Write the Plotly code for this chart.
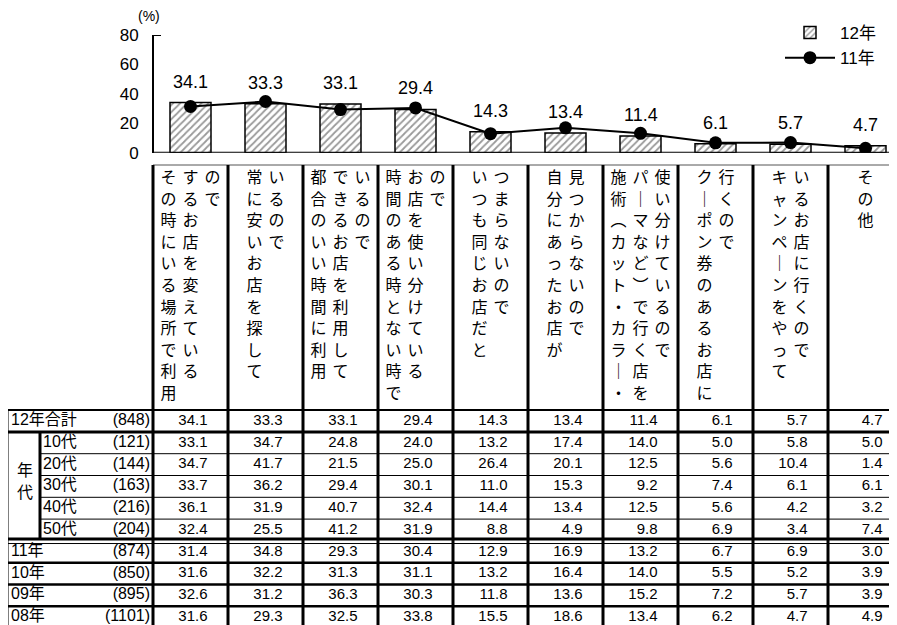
import plotly.graph_objects as go

# ---- data ---------------------------------------------------------------
# header text of each answer, one string per vertical line (read left to right)
headers = [
    ["その時にいる場所で利用", "するお店を変えている", "ので"],
    ["常に安いお店を探して", "いるので"],
    ["都合のいい時間に利用", "できるお店を利用して", "いるので"],
    ["時間のある時とない時で", "お店を使い分けている", "ので"],
    ["いつも同じお店だと", "つまらないので"],
    ["自分にあったお店が", "見つからないので"],
    ["施術︵カット・カラ｜・", "パ｜マなど︶で行く店を", "使い分けているので"],
    ["ク｜ポン券のあるお店に", "行くので"],
    ["キャンペ｜ンをやって", "いるお店に行くので"],
    ["その他"],
]

row_labels = ["12年合計", "10代", "20代", "30代", "40代", "50代", "11年", "10年", "09年", "08年"]
row_n = ["(848)", "(121)", "(144)", "(163)", "(216)", "(204)", "(874)", "(850)", "(895)", "(1101)"]

total_12 = [34.1, 33.3, 33.1, 29.4, 14.3, 13.4, 11.4, 6.1, 5.7, 4.7]
age_10 = [33.1, 34.7, 24.8, 24.0, 13.2, 17.4, 14.0, 5.0, 5.8, 5.0]
age_20 = [34.7, 41.7, 21.5, 25.0, 26.4, 20.1, 12.5, 5.6, 10.4, 1.4]
age_30 = [33.7, 36.2, 29.4, 30.1, 11.0, 15.3, 9.2, 7.4, 6.1, 6.1]
age_40 = [36.1, 31.9, 40.7, 32.4, 14.4, 13.4, 12.5, 5.6, 4.2, 3.2]
age_50 = [32.4, 25.5, 41.2, 31.9, 8.8, 4.9, 9.8, 6.9, 3.4, 7.4]
year_11 = [31.4, 34.8, 29.3, 30.4, 12.9, 16.9, 13.2, 6.7, 6.9, 3.0]
year_10 = [31.6, 32.2, 31.3, 31.1, 13.2, 16.4, 14.0, 5.5, 5.2, 3.9]
year_09 = [32.6, 31.2, 36.3, 30.3, 11.8, 13.6, 15.2, 7.2, 5.7, 3.9]
year_08 = [31.6, 29.3, 32.5, 33.8, 15.5, 18.6, 13.4, 6.2, 4.7, 4.9]

table_rows = [total_12, age_10, age_20, age_30, age_40, age_50,
              year_11, year_10, year_09, year_08]

y_ticks = [0, 20, 40, 60, 80]

# ---- layout helpers ----------------------------------------------------
# positions below are screen pixels; the page body adds an 8px offset
W, H = 897, 625
OFF = 8
COL0, COL_W = 153, 75          # left edge of first column, column width
ROW0, ROW_H = 421, 21.8        # centre of first table row, row height
AX_TOP, AX_BASE = 35, 152.7    # y pixel of 80 and of 0

FONT = "Liberation Sans, Noto Sans CJK JP, sans-serif"


def cx(px):
    return (px - COL0) / COL_W - 0.5


def ry(py):
    return (py - ROW0) / ROW_H


def paper_x(px):
    return (px - OFF) / W


def paper_y(py):
    return 1 - (py - OFF) / H


cols = list(range(len(total_12)))

fig = go.Figure()

fig.add_trace(go.Bar(
    x=cols, y=total_12, name="12年", width=41 / COL_W,
    marker=dict(color="white", line=dict(color="black", width=1.5),
                pattern=dict(shape="/", fgcolor="#333", bgcolor="white",
                             size=5, solidity=0.35)),
    hoverinfo="skip",
))
fig.add_trace(go.Scatter(
    x=cols, y=year_11, name="11年", mode="lines+markers",
    line=dict(color="black", width=2),
    marker=dict(color="black", size=13),
    hoverinfo="skip",
))

for i, v in zip(cols, total_12):
    fig.add_annotation(x=i, y=v, xref="x", yref="y", text=f"{v:.1f}",
                       yshift=21, showarrow=False,
                       font=dict(size=18, color="black", family=FONT))

# vertical header text, one point per character
hx, hy, ht = [], [], []
for i, lines in enumerate(headers):
    n = len(lines)
    for j, line in enumerate(lines):
        dx = (j - (n - 1) / 2) * 22
        for k, ch in enumerate(line):
            hx.append(i + dx / COL_W)
            hy.append(ry(179 + 21.6 * k))
            ht.append(ch)
fig.add_trace(go.Scatter(
    x=hx, y=hy, text=ht, mode="text", yaxis="y2", showlegend=False,
    textfont=dict(size=16, color="black", family=FONT), hoverinfo="skip",
))

# table values
tx, ty, tt = [], [], []
for r, vals in enumerate(table_rows):
    for i, v in enumerate(vals):
        tx.append(i + 17 / COL_W)
        ty.append(r)
        tt.append(f"{v:.1f}")
fig.add_trace(go.Scatter(
    x=tx, y=ty, text=tt, mode="text", textposition="middle left",
    yaxis="y2", showlegend=False,
    textfont=dict(size=15, color="black", family=FONT), hoverinfo="skip",
))

# row labels
lx = [cx(43) if 1 <= r <= 5 else cx(11) for r in range(len(row_labels))]
fig.add_trace(go.Scatter(
    x=lx, y=list(range(len(row_labels))), text=row_labels, mode="text",
    textposition="middle right", yaxis="y2", showlegend=False,
    textfont=dict(size=16, color="black", family=FONT), hoverinfo="skip",
))
fig.add_trace(go.Scatter(
    x=[cx(150)] * len(row_n), y=list(range(len(row_n))), text=row_n,
    mode="text", textposition="middle left", yaxis="y2", showlegend=False,
    textfont=dict(size=16, color="black", family=FONT), hoverinfo="skip",
))
fig.add_trace(go.Scatter(
    x=[cx(25), cx(25)], y=[2.35, 3.35], text=["年", "代"], mode="text",
    yaxis="y2", showlegend=False,
    textfont=dict(size=16, color="black", family=FONT), hoverinfo="skip",
))

# ---- grid lines of the table -----------------------------------------
X_END = cx(W + OFF) + 0.2
Y_END = ry(H + OFF) + 0.2


def seg(x0, y0, x1, y1, w, yref="y2", color="black"):
    fig.add_shape(type="line", x0=x0, y0=y0, x1=x1, y1=y1, xref="x",
                  yref=yref, line=dict(color=color, width=w))


seg(-0.5, ry(165), X_END, ry(165), 1, color="#555")
for i in range(len(cols) + 1):
    seg(i - 0.5, ry(165), i - 0.5, Y_END, 3)
seg(cx(7), -0.5, X_END, -0.5, 2)
seg(cx(7), 0.5, X_END, 0.5, 3)
for r in (1.5, 2.5, 3.5, 4.5):
    seg(cx(40), r, X_END, r, 1)
seg(cx(7), 5.41, X_END, 5.41, 3)
seg(cx(7), 5.62, X_END, 5.62, 1)
for r in (6.5, 7.5, 8.5):
    seg(cx(7), r, X_END, r, 2.5)
seg(cx(7), -0.5, cx(7), Y_END, 3)
seg(cx(40), 0.5, cx(40), 5.41, 3)

# chart base line and top tick
seg(-0.5, 0, X_END, 0, 2, yref="y")
seg(-0.5, 80, -0.5 + 8 / COL_W, 80, 2, yref="y")

fig.add_annotation(x=paper_x(149), y=paper_y(16), xref="paper", yref="paper",
                   xanchor="center", yanchor="middle",
                   text="(%)", showarrow=False,
                   font=dict(size=14, color="black", family=FONT))

fig.update_layout(
    width=W, height=H, margin=dict(l=0, r=0, t=0, b=0, pad=0),
    paper_bgcolor="white", plot_bgcolor="white",
    font=dict(family=FONT, color="black"),
    xaxis=dict(range=[cx(OFF), cx(W + OFF)], domain=[0, 1], visible=False,
               automargin=False, fixedrange=True),
    yaxis=dict(range=[0, 80],
               domain=[paper_y(AX_BASE), paper_y(AX_TOP)],
               tickvals=y_ticks, showgrid=False, zeroline=False,
               showline=True, linecolor="black", linewidth=2,
               anchor="free", position=paper_x(COL0), ticks="",
               ticklabelstandoff=10, tickfont=dict(size=17, color="black"),
               automargin=False, fixedrange=True),
    yaxis2=dict(range=[ry(H + OFF), ry(AX_BASE)],
                domain=[0, paper_y(AX_BASE)],
                visible=False, automargin=False, fixedrange=True),
    legend=dict(x=paper_x(780), y=paper_y(15), xanchor="left", yanchor="top",
                font=dict(size=17, color="black"), bgcolor="rgba(0,0,0,0)",
                tracegroupgap=0, itemwidth=50),
    showlegend=True,
)

fig.write_html("out.html")
